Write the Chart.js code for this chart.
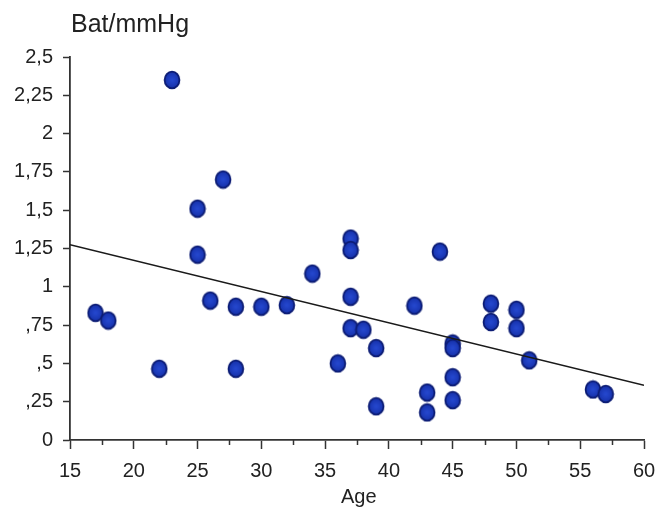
<!DOCTYPE html>
<html>
<head>
<meta charset="utf-8">
<script src="https://cdn.jsdelivr.net/npm/chart.js@4.4.0/dist/chart.umd.js"></script>
<style>
    html, body { margin: 0; padding: 0; background: #ffffff; }
    #wrap { width: 658px; height: 510px; }
</style>
</head>
<body>
<div id="wrap"><canvas id="scatterChart" width="658" height="510"></canvas></div>
<script>
// Data
const ages = [17, 18, 22, 23, 25, 25, 26, 27, 28, 28, 30, 32, 34, 36, 37, 37, 37, 37, 38, 39, 39, 42, 43, 43, 44, 45, 45, 45, 45, 48, 48, 50, 50, 51, 56, 57];
const values = [0.83, 0.78, 0.465, 2.35, 1.51, 1.21, 0.91, 1.70, 0.87, 0.465, 0.87, 0.88, 1.086, 0.50, 1.315, 1.24, 0.935, 0.73, 0.72, 0.60, 0.22, 0.877, 0.31, 0.18, 1.23, 0.63, 0.60, 0.41, 0.26, 0.89, 0.77, 0.85, 0.73, 0.52, 0.33, 0.30];

// Regression line end points
const trendAges = [15, 60];
const trendValues = [1.275, 0.357];

const yTickLabels = ['0', ',25', ',5', ',75', '1', '1,25', '1,5', '1,75', '2', '2,25', '2,5'];
const xMinorTicks = [17.5, 22.5, 27.5, 32.5, 37.5, 42.5, 47.5, 52.5, 57.5];

const yTitle = 'Bat/mmHg';
const xTitle = 'Age';

// Slightly oval blue marker
function makeDot() {
    const c = document.createElement('canvas');
    c.width = 18;
    c.height = 20;
    const g = c.getContext('2d');
    const grad = g.createRadialGradient(9, 10, 1, 9, 10, 8.5);
    grad.addColorStop(0, '#2446cc');
    grad.addColorStop(1, '#1530a8');
    g.beginPath();
    g.ellipse(9, 10, 7.4, 8.4, 0, 0, Math.PI * 2);
    g.fillStyle = grad;
    g.fill();
    g.lineWidth = 1.8;
    g.strokeStyle = '#0c1c74';
    g.stroke();
    return c;
}

// Minor x ticks and the two text titles
const extras = {
    id: 'extras',
    afterDraw(chart) {
        const ctx = chart.ctx;
        const xs = chart.scales.x;
        const bottom = chart.chartArea.bottom;
        ctx.save();
        ctx.strokeStyle = '#333333';
        ctx.lineWidth = 1.5;
        xMinorTicks.forEach(v => {
            const px = Math.round(xs.getPixelForValue(v)) + 0.5;
            ctx.beginPath();
            ctx.moveTo(px, bottom);
            ctx.lineTo(px, bottom + 5);
            ctx.stroke();
        });
        ctx.fillStyle = '#222222';
        ctx.textBaseline = 'alphabetic';
        ctx.textAlign = 'left';
        ctx.font = "25px 'Liberation Sans', Arial, sans-serif";
        ctx.fillText(yTitle, 71, 32);
        ctx.font = "20px 'Liberation Sans', Arial, sans-serif";
        ctx.fillText(xTitle, 341, 503);
        ctx.restore();
    }
};

const dot = makeDot();

new Chart(document.getElementById('scatterChart'), {
    type: 'scatter',
    data: {
        datasets: [
            {
                data: ages.map((a, i) => ({ x: a, y: values[i] })),
                pointStyle: dot,
                pointRadius: 8,
                pointHoverRadius: 8,
                order: 2
            },
            {
                type: 'line',
                data: trendAges.map((a, i) => ({ x: a, y: trendValues[i] })),
                borderColor: '#1a1a1a',
                borderWidth: 1.5,
                pointRadius: 0,
                fill: false,
                order: 1
            }
        ]
    },
    options: {
        responsive: false,
        animation: false,
        layout: {
            padding: { top: 57, right: 14, left: 0, bottom: 0 }
        },
        plugins: {
            legend: { display: false },
            tooltip: { enabled: false }
        },
        scales: {
            x: {
                type: 'linear',
                min: 15,
                max: 60,
                afterFit: scale => {
                    scale.height = 70;
                    scale.paddingLeft = 0;
                    scale.paddingRight = 0;
                },
                ticks: {
                    stepSize: 5,
                    padding: 10,
                    color: '#222222',
                    font: { size: 20, family: "'Liberation Sans', Arial, sans-serif" }
                },
                grid: {
                    drawOnChartArea: false,
                    tickLength: 9,
                    tickWidth: 1.5,
                    tickColor: '#333333'
                },
                border: { color: '#333333', width: 1.8 }
            },
            y: {
                min: 0,
                max: 2.5,
                afterFit: scale => {
                    scale.width = 70;
                    scale.paddingTop = 0;
                    scale.paddingBottom = 0;
                },
                ticks: {
                    stepSize: 0.25,
                    padding: 10,
                    color: '#222222',
                    font: { size: 20, family: "'Liberation Sans', Arial, sans-serif" },
                    callback: (value, index) => yTickLabels[index]
                },
                grid: {
                    drawOnChartArea: false,
                    tickLength: 7,
                    tickWidth: 1.5,
                    tickColor: '#333333'
                },
                border: { color: '#333333', width: 1.8 }
            }
        }
    },
    plugins: [extras]
});
</script>
</body>
</html>
